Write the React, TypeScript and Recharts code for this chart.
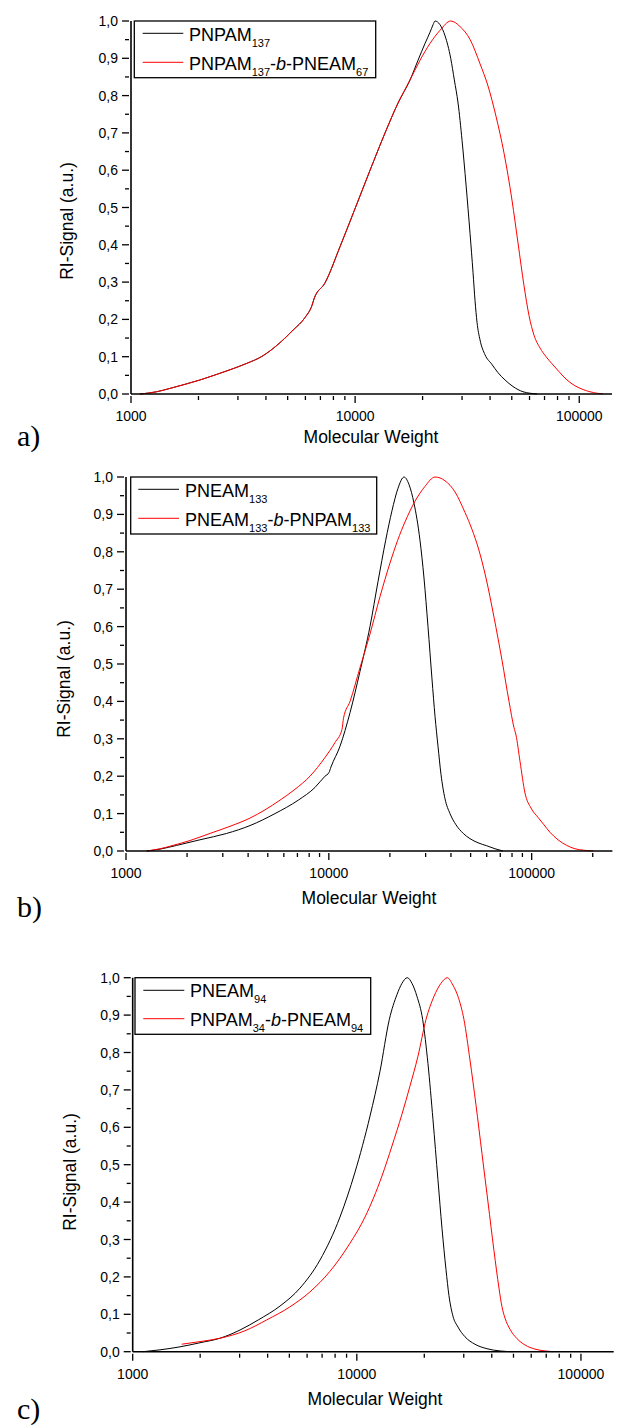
import React from 'react';
import { LineChart, Line, XAxis, YAxis } from 'recharts';

const FONT = 'Arial, "Liberation Sans", sans-serif';

// a) PNPAM137 vs PNPAM137-b-PNEAM67
const aBlackMw = [1097, 1302, 1493, 1742, 2030, 2371, 2766, 3282, 3842, 4529, 5300, 5976, 6424, 6557, 7340, 8563, 9888, 11660, 13600, 15540, 17580, 19090, 20510, 21590, 22270, 22730, 23920, 25200, 26700, 27710, 28790, 30000, 31260, 32570, 33590, 34280, 34990, 36080, 37990, 40700, 43420, 46660, 50640, 56130, 60310, 64800];
const aBlackSignal = [0, 0.006, 0.015, 0.026, 0.0375, 0.051, 0.065, 0.082, 0.101, 0.133, 0.172, 0.205, 0.238, 0.255, 0.298, 0.395, 0.49, 0.6, 0.7, 0.78, 0.842, 0.895, 0.94, 0.97, 0.99, 1.0, 0.99, 0.96, 0.9, 0.842, 0.78, 0.68, 0.56, 0.43, 0.325, 0.25, 0.192, 0.145, 0.105, 0.08, 0.057, 0.0375, 0.02, 0.006, 0.002, 0];
const aRedMw = [1097, 1302, 1493, 1742, 2030, 2371, 2766, 3282, 3842, 4529, 5300, 5976, 6424, 6557, 7340, 8563, 9888, 11660, 13600, 15540, 17580, 19490, 21590, 23920, 26700, 29400, 32600, 36100, 39200, 42500, 46200, 50100, 53300, 56700, 59700, 62800, 66900, 71100, 75600, 81200, 88200, 95800, 104000, 111700, 120100, 127700];
const aRedSignal = [0, 0.006, 0.015, 0.026, 0.0375, 0.051, 0.065, 0.082, 0.101, 0.133, 0.172, 0.205, 0.238, 0.255, 0.298, 0.395, 0.49, 0.6, 0.7, 0.78, 0.842, 0.895, 0.94, 0.975, 1.0, 0.985, 0.95, 0.885, 0.825, 0.745, 0.645, 0.52, 0.405, 0.29, 0.21, 0.158, 0.123, 0.1, 0.081, 0.06, 0.0375, 0.022, 0.012, 0.006, 0.002, 0];

// b) PNEAM133 vs PNEAM133-b-PNPAM133
const bBlackMw = [1265, 1471, 1778, 2317, 3136, 4087, 5426, 7070, 8546, 9572, 10020, 10250, 11350, 12720, 14240, 15950, 17470, 19070, 20480, 21930, 23470, 24840, 26290, 28140, 29450, 30820, 32250, 33380, 34530, 35720, 37370, 39570, 42360, 46000, 49640, 54370, 60000, 65930, 72200];
const bBlackSignal = [0, 0.005, 0.015, 0.03, 0.047, 0.068, 0.1, 0.136, 0.17, 0.2, 0.21, 0.225, 0.28, 0.37, 0.48, 0.6, 0.72, 0.831, 0.91, 0.97, 1.0, 0.98, 0.93, 0.831, 0.73, 0.6, 0.46, 0.36, 0.28, 0.205, 0.14, 0.1, 0.07, 0.047, 0.033, 0.022, 0.014, 0.006, 0];
const bRedMw = [1265, 1471, 1705, 2068, 2595, 3256, 4087, 4844, 5744, 6810, 8072, 9572, 10720, 11610, 11810, 12720, 14240, 15950, 17870, 20020, 21850, 23740, 26590, 29790, 33380, 37370, 41880, 46920, 50780, 54560, 59530, 65200, 71400, 77300, 81800, 83700, 87570, 92690, 99200, 107400, 115000, 123100, 134800, 148800, 163500, 181000, 201300];
const bRedSignal = [0, 0.006, 0.015, 0.028, 0.047, 0.066, 0.088, 0.11, 0.136, 0.165, 0.2, 0.25, 0.29, 0.325, 0.355, 0.4, 0.49, 0.58, 0.68, 0.77, 0.831, 0.88, 0.935, 0.975, 1.0, 0.99, 0.96, 0.905, 0.86, 0.81, 0.73, 0.625, 0.51, 0.4, 0.33, 0.31, 0.24, 0.155, 0.115, 0.09, 0.07, 0.05, 0.03, 0.015, 0.006, 0.002, 0];

// c) PNEAM94 vs PNPAM34-b-PNEAM94
const cBlackMw = [1112, 1324, 1626, 1997, 2452, 3012, 3634, 4541, 5577, 6848, 8411, 9813, 11450, 12690, 13960, 15110, 15900, 16800, 17620, 18550, 19670, 20770, 21870, 23010, 23990, 24990, 25770, 26850, 28270, 30370, 33660, 38080, 43530, 49750];
const cBlackSignal = [0, 0.005, 0.013, 0.024, 0.036, 0.058, 0.085, 0.122, 0.17, 0.245, 0.36, 0.48, 0.63, 0.75, 0.888, 0.955, 0.985, 1.0, 0.985, 0.95, 0.888, 0.77, 0.62, 0.46, 0.33, 0.22, 0.15, 0.095, 0.066, 0.04, 0.02, 0.008, 0.002, 0];
const cRedMw = [1654, 1997, 2452, 3170, 3961, 5032, 6180, 7590, 9322, 10875, 12950, 14350, 15900, 17260, 18740, 20350, 22090, 23740, 25330, 26850, 28270, 30060, 31980, 34010, 36170, 38480, 40920, 43080, 44430, 45820, 48240, 51830, 56260, 62350, 69090, 75000];
const cRedSignal = [0.02, 0.027, 0.036, 0.056, 0.085, 0.12, 0.16, 0.215, 0.29, 0.36, 0.47, 0.55, 0.635, 0.71, 0.79, 0.888, 0.95, 0.985, 1.0, 0.98, 0.95, 0.888, 0.78, 0.66, 0.53, 0.4, 0.27, 0.17, 0.12, 0.09, 0.06, 0.035, 0.018, 0.007, 0.002, 0];

const xTicksShort = [1000, 2000, 3000, 4000, 5000, 6000, 7000, 8000, 9000, 10000, 20000, 30000, 40000, 50000, 60000, 70000, 80000, 90000, 100000];
const xTicksLong = [...xTicksShort, 200000];
const xMajor = [1000, 10000, 100000];
const yTicks = [0, 0.05, 0.1, 0.15, 0.2, 0.25, 0.3, 0.35, 0.4, 0.45, 0.5, 0.55, 0.6, 0.65, 0.7, 0.75, 0.8, 0.85, 0.9, 0.95, 1.0];

const toPoints = (mw: number[], signal: number[]) => mw.map((m, i) => ({ mw: m, signal: signal[i] }));

function XTick(props: any) {
  const { x, y, payload } = props;
  const major = xMajor.includes(payload.value);
  return (
    <g>
      <line x1={x} x2={x} y1={y} y2={y + (major ? 7 : 4)} stroke="#000" strokeWidth={1.3} />
      {major && (
        <text x={x} y={y + 25} textAnchor="middle" fontSize={14} fontFamily={FONT} fill="#000">
          {payload.value}
        </text>
      )}
    </g>
  );
}

function YTick(props: any) {
  const { x, y, payload } = props;
  const v = payload.value;
  const major = Math.round(v * 100) % 10 === 0;
  return (
    <g>
      <line x1={x} x2={x - (major ? 7 : 4)} y1={y} y2={y} stroke="#000" strokeWidth={1.3} />
      {major && (
        <text x={x - 11} y={y + 5} textAnchor="end" fontSize={14} fontFamily={FONT} fill="#000">
          {v.toFixed(1).replace('.', ',')}
        </text>
      )}
    </g>
  );
}

interface PanelProps {
  top: number;
  height: number;
  plotLeft: number;
  plotRight: number;
  plotTop: number;
  plotBottom: number;
  xMax: number;
  xTicks: number[];
  black: { mw: number; signal: number }[];
  red: { mw: number; signal: number }[];
}

function Panel({ top, height, plotLeft, plotRight, plotTop, plotBottom, xMax, xTicks, black, red }: PanelProps) {
  const yAxisWidth = 60;
  const xAxisHeight = 30;
  return (
    <div style={{ position: 'absolute', left: 0, top, width: 637, height }}>
      <LineChart
        width={637}
        height={height}
        margin={{
          top: plotTop - top,
          left: plotLeft - yAxisWidth,
          right: 637 - plotRight,
          bottom: top + height - plotBottom - xAxisHeight,
        }}
      >
        <XAxis
          type="number"
          dataKey="mw"
          scale="log"
          domain={[1000, xMax]}
          allowDataOverflow
          ticks={xTicks}
          interval={0}
          tick={<XTick />}
          tickLine={false}
          tickSize={0}
          height={xAxisHeight}
          axisLine={{ stroke: '#000', strokeWidth: 1.6 }}
        />
        <YAxis
          type="number"
          dataKey="signal"
          domain={[0, 1]}
          ticks={yTicks}
          interval={0}
          tick={<YTick />}
          tickLine={false}
          tickSize={0}
          width={yAxisWidth}
          axisLine={{ stroke: '#000', strokeWidth: 1.6 }}
        />
        <Line data={black} dataKey="signal" type="monotone" stroke="#000000" strokeWidth={1} dot={false} isAnimationActive={false} />
        <Line data={red} dataKey="signal" type="monotone" stroke="#ff0000" strokeWidth={1} dot={false} isAnimationActive={false} />
      </LineChart>
    </div>
  );
}

function LegendBox({ x1, y1, x2, y2, lineX1, lineX2, rowY, textX, baselines, rows }: any) {
  return (
    <g>
      <rect x={x1} y={y1} width={x2 - x1} height={y2 - y1} fill="#fff" stroke="#000" strokeWidth={1.3} />
      <line x1={lineX1} x2={lineX2} y1={rowY[0]} y2={rowY[0]} stroke="#000" strokeWidth={1} />
      <line x1={lineX1} x2={lineX2} y1={rowY[1]} y2={rowY[1]} stroke="#ff0000" strokeWidth={1} />
      <text x={textX} y={baselines[0]} fontSize={18} fontFamily={FONT} fill="#000">{rows[0]}</text>
      <text x={textX} y={baselines[1]} fontSize={18} fontFamily={FONT} fill="#000">{rows[1]}</text>
    </g>
  );
}

const Sub = ({ children }: any) => (
  <tspan fontSize={11} dy={6}>{children}</tspan>
);

export default function App() {
  return (
    <div style={{ position: 'absolute', left: 0, top: 0, width: 637, height: 1425, background: '#fff', fontFamily: FONT }}>
      <Panel top={0} height={440} plotLeft={131} plotRight={612} plotTop={21} plotBottom={394} xMax={140000} xTicks={xTicksShort} black={toPoints(aBlackMw, aBlackSignal)} red={toPoints(aRedMw, aRedSignal)} />
      <Panel top={460} height={440} plotLeft={126} plotRight={612.4} plotTop={477} plotBottom={851} xMax={250000} xTicks={xTicksLong} black={toPoints(bBlackMw, bBlackSignal)} red={toPoints(bRedMw, bRedSignal)} />
      <Panel top={940} height={470} plotLeft={132.7} plotRight={613.7} plotTop={977.7} plotBottom={1351.7} xMax={140000} xTicks={xTicksShort} black={toPoints(cBlackMw, cBlackSignal)} red={toPoints(cRedMw, cRedSignal)} />

      <svg width={637} height={1425} style={{ position: 'absolute', left: 0, top: 0, pointerEvents: 'none' }}>
        <LegendBox
          x1={134.3} y1={21} x2={375.7} y2={77.7}
          lineX1={142.7} lineX2={183.3} rowY={[33.3, 62.3]} textX={189} baselines={[40.7, 70]}
          rows={[
            <>PNPAM<Sub>137</Sub></>,
            <>PNPAM<Sub>137</Sub><tspan dy={-6}>-</tspan><tspan fontStyle="italic">b</tspan><tspan>-PNEAM</tspan><Sub>67</Sub></>,
          ]}
        />
        <LegendBox
          x1={130.7} y1={477} x2={376.7} y2={534}
          lineX1={138.3} lineX2={179} rowY={[489.3, 518.3]} textX={185} baselines={[496.7, 525.7]}
          rows={[
            <>PNEAM<Sub>133</Sub></>,
            <>PNEAM<Sub>133</Sub><tspan dy={-6}>-</tspan><tspan fontStyle="italic">b</tspan><tspan>-PNPAM</tspan><Sub>133</Sub></>,
          ]}
        />
        <LegendBox
          x1={135} y1={977.7} x2={370.7} y2={1034.3}
          lineX1={143.3} lineX2={184.3} rowY={[990.3, 1018.7]} textX={190} baselines={[997.3, 1025.7]}
          rows={[
            <>PNEAM<Sub>94</Sub></>,
            <>PNPAM<Sub>34</Sub><tspan dy={-6}>-</tspan><tspan fontStyle="italic">b</tspan><tspan>-PNEAM</tspan><Sub>94</Sub></>,
          ]}
        />

        <text x={371} y={443} textAnchor="middle" fontSize={17.5} fontFamily={FONT} fill="#000">Molecular Weight</text>
        <text x={369} y={903.5} textAnchor="middle" fontSize={17.5} fontFamily={FONT} fill="#000">Molecular Weight</text>
        <text x={375} y={1405} textAnchor="middle" fontSize={17.5} fontFamily={FONT} fill="#000">Molecular Weight</text>

        <text transform="translate(73,221) rotate(-90)" textAnchor="middle" fontSize={17.5} fontFamily={FONT} fill="#000">RI-Signal (a.u.)</text>
        <text transform="translate(70,679) rotate(-90)" textAnchor="middle" fontSize={17.5} fontFamily={FONT} fill="#000">RI-Signal (a.u.)</text>
        <text transform="translate(76,1172) rotate(-90)" textAnchor="middle" fontSize={17.5} fontFamily={FONT} fill="#000">RI-Signal (a.u.)</text>

        <text x={17} y={446} fontSize={30} fontFamily='"Liberation Serif", "Times New Roman", serif' fill="#000">a)</text>
        <text x={17} y={917} fontSize={30} fontFamily='"Liberation Serif", "Times New Roman", serif' fill="#000">b)</text>
        <text x={17} y={1419} fontSize={30} fontFamily='"Liberation Serif", "Times New Roman", serif' fill="#000">c)</text>
      </svg>
    </div>
  );
}
